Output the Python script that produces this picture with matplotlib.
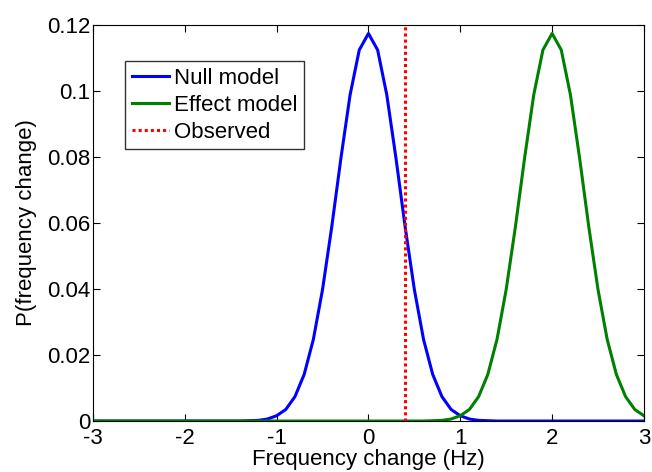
import numpy as np
import matplotlib
matplotlib.use('Agg')
import matplotlib.pyplot as plt

plt.rcParams['font.family'] = ['Liberation Sans', 'DejaVu Sans']

# frequency grid (Hz), step 0.1
freq = np.round(np.arange(-3.0, 3.0001, 0.1), 1)

# one-sided values of the bell (distance 0, 0.1, ... 1.4 from centre)
bell = [0.1173, 0.1123, 0.0987, 0.0795, 0.0587, 0.0398, 0.0247, 0.0141,
        0.0074, 0.0035, 0.0016, 0.0006, 0.0002, 0.0001, 0.0000]

null_centre = 0.0
effect_centre = 2.0
observed = 0.4


def lookup(x, centre):
    d = int(round(abs(x - centre) * 10))
    return bell[d] if d < len(bell) else 0.0


null_p = [lookup(x, null_centre) for x in freq]
effect_p = [lookup(x, effect_centre) for x in freq]

fig = plt.figure(figsize=(6.52, 4.72), dpi=100)
ax = fig.add_axes([0.1426, 0.108, 0.845, 0.840])

ax.plot(freq, null_p, color=(0, 0, 1), lw=2.2, label='Null model')
ax.plot(freq, effect_p, color=(0, 0.5, 0), lw=2.2, label='Effect model')
ax.plot([observed, observed], [0, 0.12], color=(1, 0, 0), lw=2.2,
        linestyle=(0, (1, 1)), label='Observed')

ax.set_xlim(-3, 3)
ax.set_ylim(0, 0.12)
ax.set_xticks(np.arange(-3, 4, 1))
ax.set_xticklabels(['-3', '-2', '-1', '0', '1', '2', '3'])
ax.set_yticks([0, 0.02, 0.04, 0.06, 0.08, 0.1, 0.12])
ax.set_yticklabels(['0', '0.02', '0.04', '0.06', '0.08', '0.1', '0.12'])
ax.tick_params(direction='in', top=True, right=True, labelsize=16, length=5)
ax.tick_params(axis='x', pad=5)
ax.tick_params(axis='y', pad=2)
ax.set_xlabel('Frequency change (Hz)', fontsize=16, labelpad=0)
ax.set_ylabel('P(frequency change)', fontsize=16, labelpad=7)

leg = ax.legend(loc='upper left', bbox_to_anchor=(0.058, 0.908), fontsize=16,
                frameon=True, fancybox=False, handlelength=1.7, handletextpad=0.2,
                borderpad=0.3, labelspacing=0.27, borderaxespad=0)
leg.get_frame().set_edgecolor('black')
leg.get_frame().set_linewidth(1.0)

plt.savefig('out.png', dpi=100)
